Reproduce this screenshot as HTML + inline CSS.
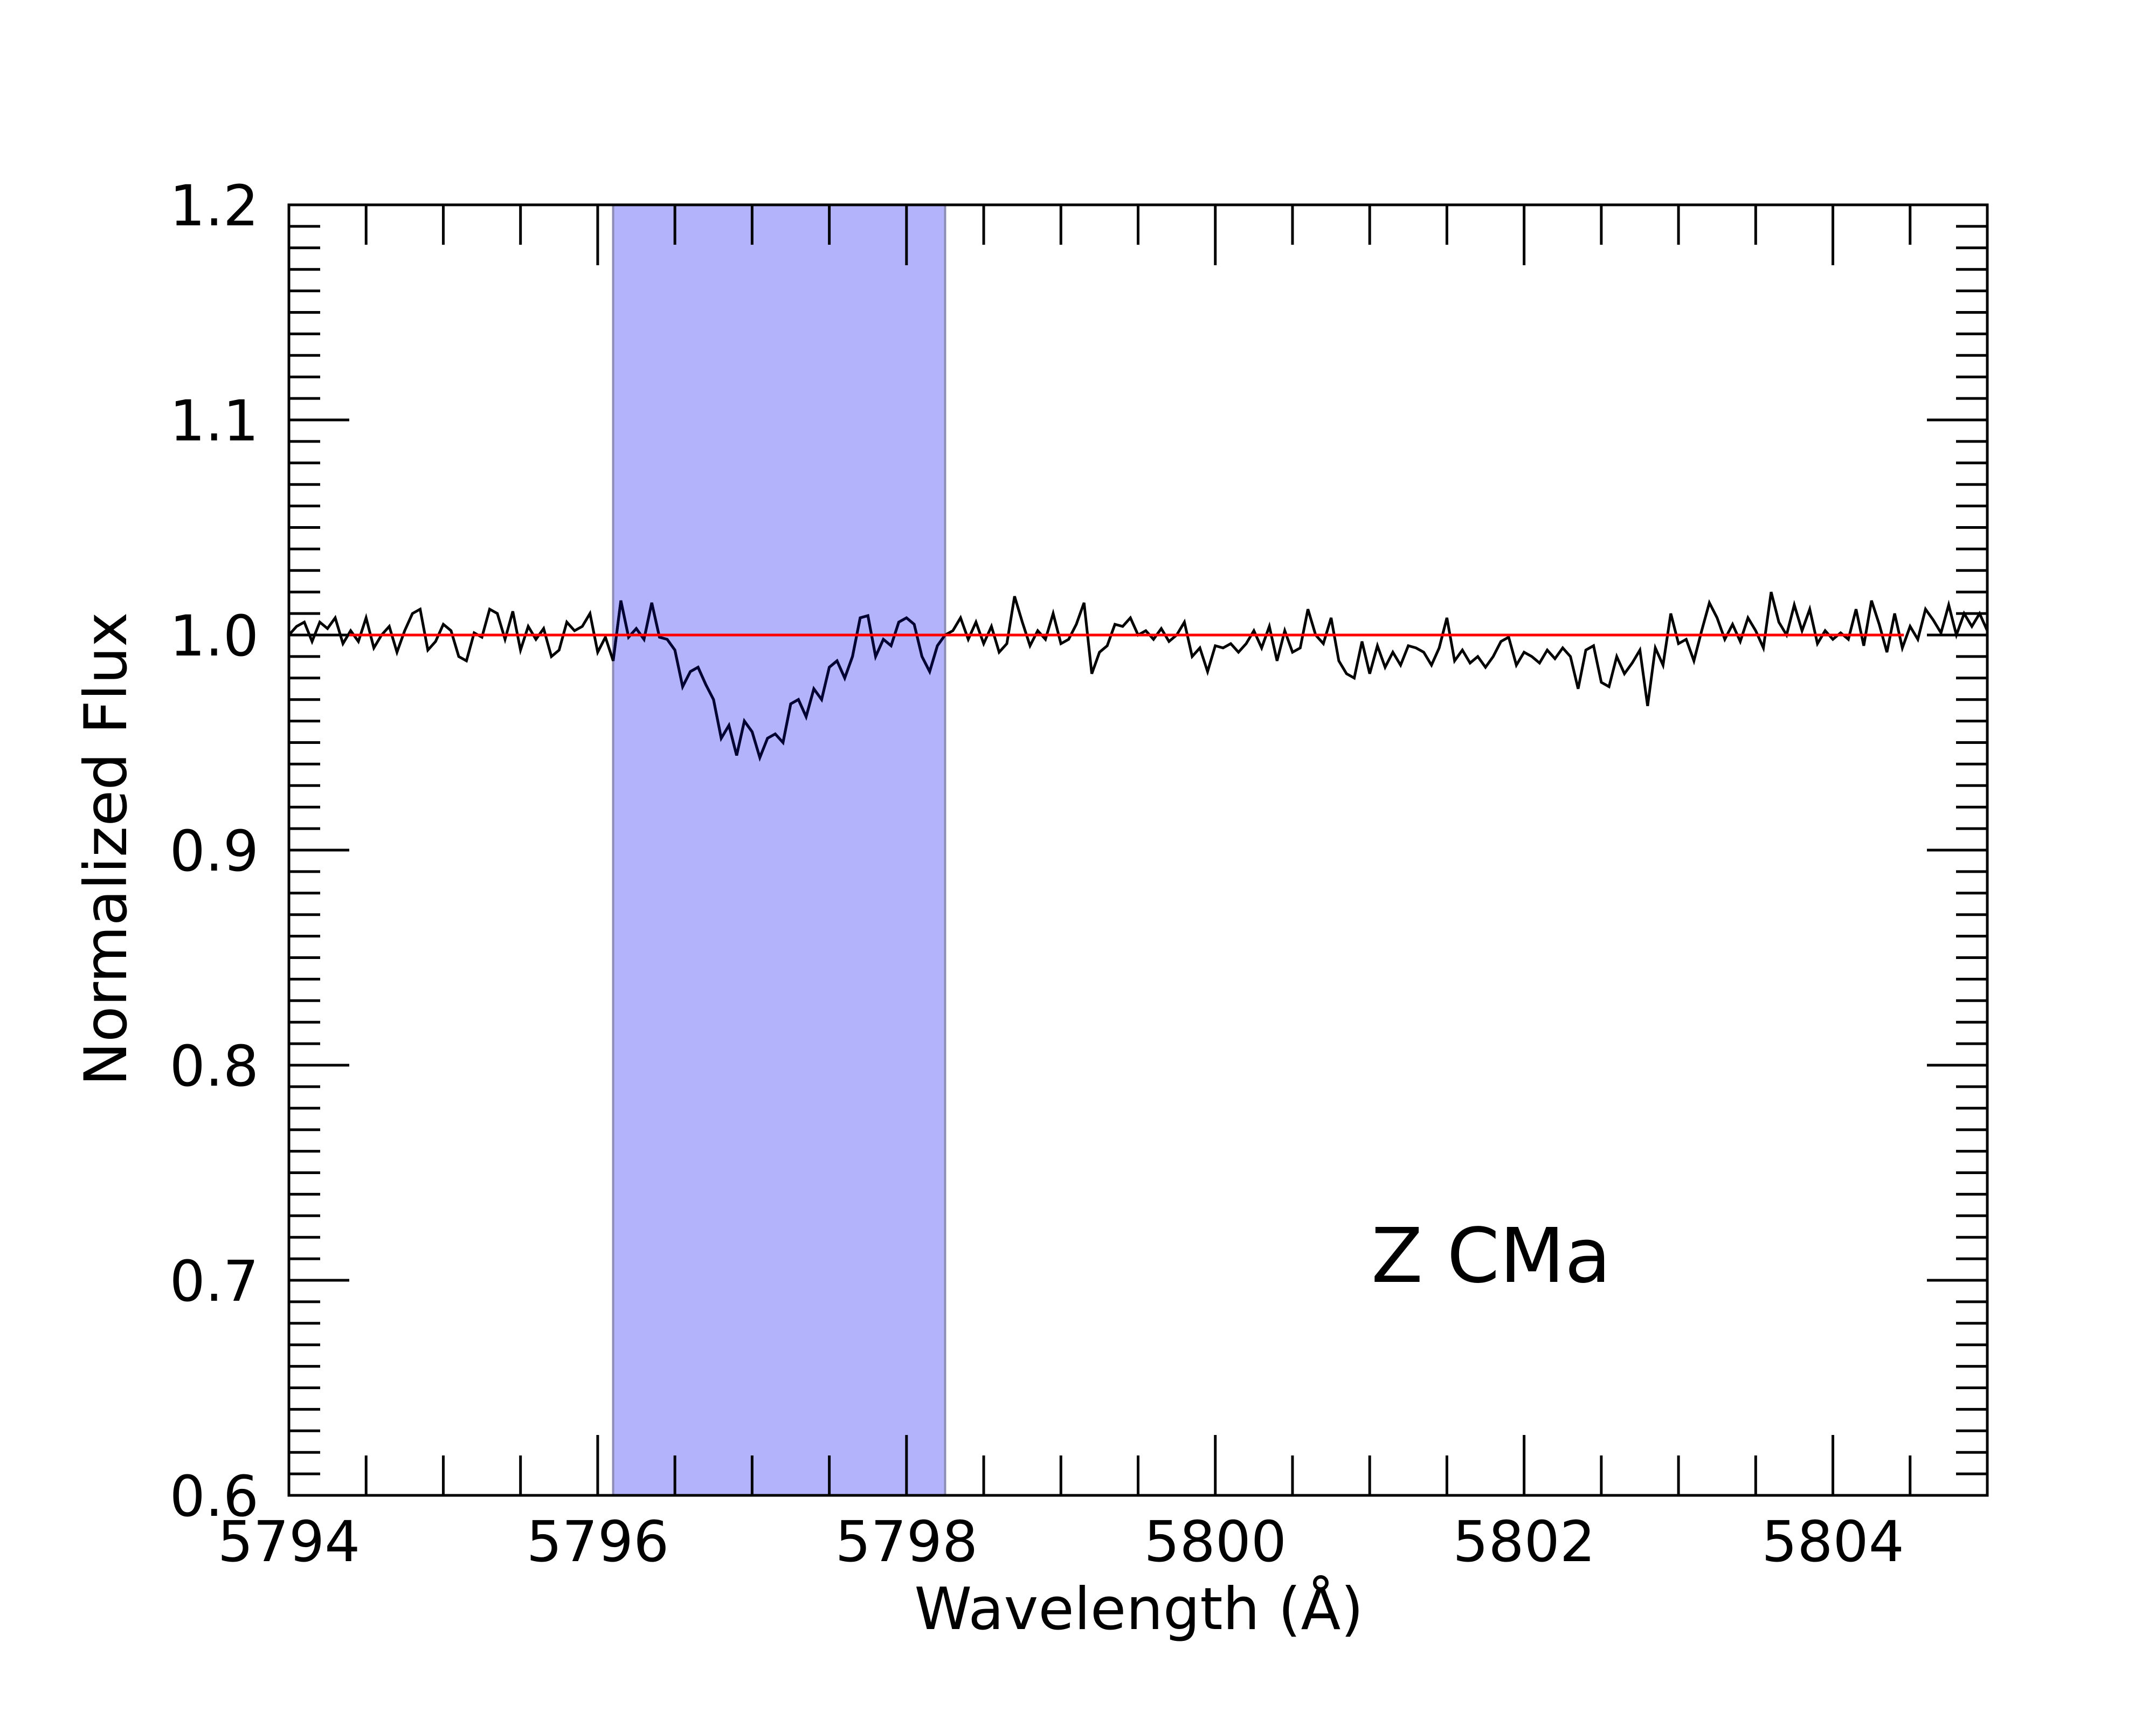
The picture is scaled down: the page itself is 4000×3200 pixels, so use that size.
<!DOCTYPE html>
<html><head><meta charset="utf-8"><style>
html,body{margin:0;padding:0;background:#fff;}
svg{display:block;}
text{font-family:"DejaVu Sans","Liberation Sans",sans-serif;fill:#000;}
</style></head><body>
<svg id="chart" width="4000" height="3200" viewBox="0 0 4000 3200" xmlns="http://www.w3.org/2000/svg">
<rect x="0" y="0" width="4000" height="3200" fill="#fff"/>
<g id="plot"></g>
</svg>
<script>
const waveStart = 5794.0;
const waveStep = 0.05;
const fluxValues = [
1.000,1.004,1.006,0.997,1.006,1.003,1.008,0.996,1.002,0.997,1.008,0.994,1.000,1.004,0.992,1.002,1.010,1.012,0.993,0.997,1.005,1.002,0.990,0.988,1.001,0.999,1.012,1.010,0.998,1.011,0.993,1.004,0.998,1.003,0.990,0.993,1.006,1.002,1.004,1.010,0.992,0.999,0.988,
1.016,0.999,1.003,0.998,1.015,0.999,0.998,0.993,0.976,0.983,0.985,0.977,0.970,0.952,0.958,0.944,0.960,0.955,0.943,0.952,0.954,0.950,0.968,0.970,0.962,0.975,0.970,0.985,0.988,0.980,0.990,1.008,1.009,0.990,0.998,0.995,1.006,1.008,1.005,0.990,0.983,0.995,1.000,
1.002,1.008,0.998,1.006,0.996,1.004,0.992,0.996,1.018,1.006,
0.995,1.002,0.998,1.010,0.996,0.998,1.005,1.015,0.982,0.992,
0.995,1.005,1.004,1.008,1.000,1.002,0.998,1.003,0.997,1.000,
1.006,0.990,0.994,0.983,0.995,0.994,0.996,0.992,0.996,1.002,
0.994,1.004,0.988,1.002,0.992,0.994,1.012,1.000,0.996,1.008,
0.988,0.982,0.980,0.997,0.982,0.995,0.985,0.992,0.986,0.995,
0.994,0.992,0.986,0.994,1.008,0.988,0.993,0.987,0.990,0.985,
0.990,0.997,0.999,0.986,0.992,0.990,0.987,0.993,0.989,0.994,
0.990,0.975,0.993,0.995,0.978,0.976,0.990,0.982,0.987,0.993,
0.967,0.994,0.986,1.010,0.996,0.998,0.988,1.002,1.015,1.008,
0.998,1.005,0.997,1.008,1.002,0.994,1.020,1.006,1.000,1.014,
1.002,1.012,0.996,1.002,0.998,1.001,0.998,1.012,0.995,1.016,
1.005,0.992,1.010,0.994,1.004,0.998,1.012,1.007,1.001,1.014,
1.000,1.010,1.004,1.010,1.002
];
const xTickLabels = [5794,5796,5798,5800,5802,5804];
const yTickLabels = ["0.6","0.7","0.8","0.9","1.0","1.1","1.2"];
const bandRange = [5796.1, 5798.25];
const continuumLevel = 1.0;
const continuumRange = [5794.0, 5804.46];

const L=536,R=3687,T=380,B=2774;
const X0=5794,X1=5805,Y0=0.6,Y1=1.2;
function sx(v){return L+(v-X0)/(X1-X0)*(R-L);}
function sy(v){return B-(v-Y0)/(Y1-Y0)*(B-T);}
const NS="http://www.w3.org/2000/svg";
const g=document.getElementById('plot');
function mk(tag,attrs,parent){const e=document.createElementNS(NS,tag);for(const k in attrs)e.setAttribute(k,attrs[k]);(parent||g).appendChild(e);return e;}

let band=mk('rect',{x:sx(bandRange[0]),y:T,width:sx(bandRange[1])-sx(bandRange[0]),height:B-T,fill:'#b3b3fc',stroke:'#8c8cb4','stroke-width':4});



let pts=fluxValues.map((v,i)=>sx(waveStart+i*waveStep).toFixed(1)+','+sy(v).toFixed(1)).join(' ');
let spec=mk('polyline',{points:pts,fill:'none',stroke:'#000','stroke-width':5,'stroke-linejoin':'miter'});


let clip=mk('clipPath',{id:'bandclip'});
mk('rect',{x:sx(bandRange[0]),y:T,width:sx(bandRange[1])-sx(bandRange[0]),height:B-T},clip);
let spec2=mk('polyline',{points:pts,fill:'none',stroke:'#000033','stroke-width':5,'clip-path':'url(#bandclip)'});



let cont=mk('line',{x1:sx(continuumRange[0]),x2:sx(continuumRange[1]),y1:sy(continuumLevel),y2:sy(continuumLevel),stroke:'#ff0000','stroke-width':5});



for(let k=0;k<=22;k++){
  const w=X0+k*0.5, x=sx(w);
  const major=(k%4===0);
  const len=major?112:74;
  let t1=mk('line',{x1:x,x2:x,y1:T,y2:T+len,stroke:'#000','stroke-width':5});
  
  
  let t2=mk('line',{x1:x,x2:x,y1:B,y2:B-len,stroke:'#000','stroke-width':5});
  
  
}
for(let k=0;k<=60;k++){
  const v=Y0+k*0.01, y=sy(v);
  const major=(k%10===0);
  const len=major?112:58;
  let t1=mk('line',{x1:L,x2:L+len,y1:y,y2:y,stroke:'#000','stroke-width':5});
  
  
  let t2=mk('line',{x1:R,x2:R-len,y1:y,y2:y,stroke:'#000','stroke-width':5});
  
  
}
let fr=mk('rect',{x:L,y:T,width:R-L,height:B-T,fill:'none',stroke:'#000','stroke-width':5});



xTickLabels.forEach(v=>{
  let t=mk('text',{x:sx(v),y:2896,'text-anchor':'middle','font-size':104});
  t.textContent=String(v);
  
  
});
yTickLabels.forEach(s=>{
  let t=mk('text',{x:480,y:sy(parseFloat(s))+38,'text-anchor':'end','font-size':104});
  t.textContent=s;
  
  
});
let xt=mk('text',{x:2113,y:3022,'text-anchor':'middle','font-size':108});
xt.textContent='Wavelength (Å)';


let yt=mk('text',{x:0,y:0,'text-anchor':'middle','font-size':109,transform:'translate(234,1575) rotate(-90)'});
yt.textContent='Normalized Flux';


let lab=mk('text',{x:2544,y:2378,'font-size':140});
lab.textContent='Z CMa';


</script>
</body></html>
